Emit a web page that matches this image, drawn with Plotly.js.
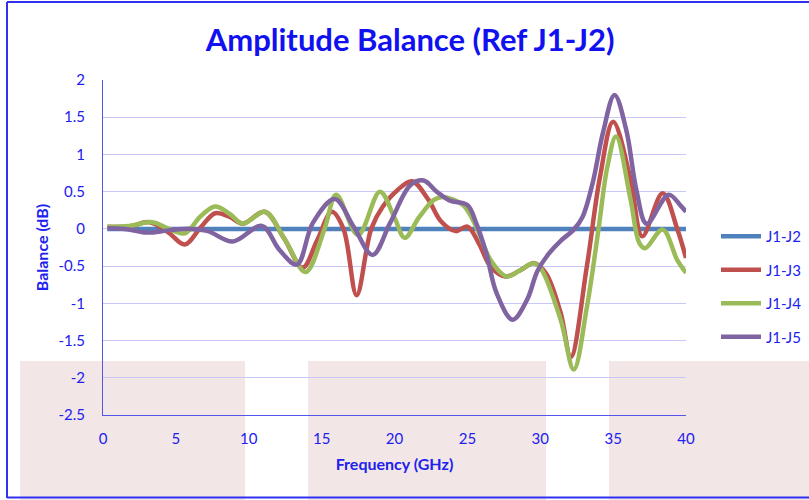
<!DOCTYPE html>
<html>
<head>
<meta charset="utf-8">
<script src="https://cdn.plot.ly/plotly-3.0.1.min.js"></script>
<style>html,body{margin:0;padding:0;background:#fff;}#chart{width:809px;height:500px;}</style>
</head>
<body>
<div id="chart"></div>
<script>
// ---- data ----
const seriesNames = ["J1-J2", "J1-J3", "J1-J4", "J1-J5"];

const x_J2 = [0.3, 40];
const y_J2 = [0, 0];

const x_J3 = [0.3, 1.8, 3.2, 4.5, 5.6, 6.7, 7.7, 8.7, 9.6, 11.1, 12.4, 13.7, 14.7, 15.7, 16.5, 17.4, 18.4, 19.2, 20.2, 21.2, 22.3, 23.2, 24.2, 25.0, 25.8, 26.6, 27.6, 28.6, 29.6, 30.4, 31.4, 32.1, 33.2, 34.1, 35.0, 36.2, 37.0, 38.4, 39.4, 40];
const y_J3 = [0.03, 0.03, 0.09, -0.05, -0.21, 0.02, 0.21, 0.16, 0.07, 0.23, -0.12, -0.52, -0.15, 0.23, 0.0, -0.89, 0.0, 0.3, 0.52, 0.64, 0.4, 0.1, -0.03, 0.03, -0.2, -0.51, -0.64, -0.56, -0.46, -0.6, -1.13, -1.72, -0.5, 0.7, 1.44, 0.66, -0.1, 0.48, 0.0, -0.39];

const x_J4 = [0.3, 1.8, 3.4, 4.4, 5.6, 6.7, 7.7, 8.7, 9.6, 11.1, 12.5, 13.9, 15.2, 16.0, 17.5, 19.0, 20.0, 20.7, 21.7, 22.7, 23.3, 24.7, 25.6, 26.6, 27.7, 28.6, 29.5, 30.0, 31.4, 32.3, 33.2, 34.0, 34.6, 35.2, 36.2, 36.8, 37.2, 38.4, 39.4, 40];
const y_J4 = [0.03, 0.04, 0.09, 0.01, -0.06, 0.17, 0.3, 0.2, 0.07, 0.23, -0.15, -0.58, 0.0, 0.46, -0.08, 0.5, 0.15, -0.12, 0.16, 0.39, 0.43, 0.32, 0.03, -0.42, -0.64, -0.56, -0.46, -0.52, -1.22, -1.89, -1.05, 0.0, 0.83, 1.24, 0.39, -0.19, -0.26, -0.01, -0.42, -0.59];

const x_J5 = [0.3, 1.5, 3.0, 4.5, 6.0, 7.2, 8.9, 10.9, 12.1, 13.3, 14.4, 15.9, 17.2, 18.5, 19.7, 21.1, 22.0, 22.9, 23.8, 25.0, 25.6, 26.3, 27.0, 28.1, 29.1, 29.8, 30.6, 31.4, 32.3, 32.9, 33.6, 34.3, 35.1, 35.9, 36.6, 37.3, 38.8, 39.6, 40];
const y_J5 = [0.01, 0.0, -0.05, -0.02, 0.0, -0.03, -0.17, 0.04, -0.28, -0.48, 0.08, 0.4, 0.03, -0.35, 0.08, 0.59, 0.65, 0.5, 0.38, 0.32, 0.08, -0.33, -0.86, -1.22, -0.95, -0.57, -0.33, -0.16, -0.01, 0.16, 0.62, 1.29, 1.8, 1.33, 0.52, 0.07, 0.46, 0.32, 0.23];

const xTicks = [0, 5, 10, 15, 20, 25, 30, 35, 40];
const yTicks = [-2.5, -2, -1.5, -1, -0.5, 0, 0.5, 1, 1.5, 2];

// ---- styling ----
const colors = ["#4F81BD", "#C0504D", "#9BBB59", "#8064A2"];
const FONT = "Lato, 'Open Sans', sans-serif";
const BLUE = "#2020F0";

const xs = [x_J2, x_J3, x_J4, x_J5];
const ys = [y_J2, y_J3, y_J4, y_J5];

const traces = seriesNames.map((n, i) => ({
  type: "scatter", mode: "lines", name: n,
  x: xs[i], y: ys[i],
  legendgroup: "g" + i,
  line: {color: colors[i], width: 4.5, shape: i === 0 ? "linear" : "spline", smoothing: 1}
}));

// pink background blocks (pixel-based, converted to paper coords)
const L = 103, R = 686, T = 80, B = 415;
const px = p => (p - L) / (R - L);
const py = p => (B - p) / (B - T);
const pinkBlocks = [[20, 245], [308, 546], [609, 812]];
const shapes = pinkBlocks.map(b => ({
  type: "rect", xref: "paper", yref: "paper", layer: "below",
  x0: px(b[0]), x1: px(b[1]), y0: py(361), y1: py(503),
  fillcolor: "#F2E6E6", line: {width: 0}
}));
// frame lines
shapes.push({type: "line", xref: "paper", yref: "paper", x0: px(7), x1: px(7), y0: py(2), y1: py(498), line: {color: "#3030F0", width: 2}, layer: "above"});
shapes.push({type: "line", xref: "paper", yref: "paper", x0: px(7), x1: px(812), y0: py(2), y1: py(2), line: {color: "#3030F0", width: 2}, layer: "above"});
shapes.push({type: "line", xref: "paper", yref: "paper", x0: px(7), x1: px(812), y0: py(497.5), y1: py(497.5), line: {color: "#3030F0", width: 2}, layer: "above"});

const layout = {
  width: 809, height: 500,
  margin: {l: L, r: 809 - R, t: T, b: 500 - B, autoexpand: false},
  paper_bgcolor: "#ffffff",
  plot_bgcolor: "rgba(0,0,0,0)",
  font: {family: FONT, color: BLUE, size: 15},
  title: {text: "<b>Amplitude Balance (Ref J1-J2)</b>", x: 0.507, xanchor: "center", y: 0.92, yanchor: "middle",
          font: {family: FONT, size: 31, color: "#1010F0"}},
  xaxis: {
    range: [0, 40], tickvals: xTicks, ticktext: xTicks.map(String),
    showgrid: false, zeroline: false,
    showline: true, linecolor: "#5555EE", linewidth: 1,
    ticks: "", ticklabelstandoff: 10,
    tickfont: {family: FONT, size: 15, color: BLUE},
    title: {text: "<b>Frequency (GHz)</b>", font: {family: FONT, size: 16, color: BLUE}, standoff: 12}
  },
  yaxis: {
    range: [-2.5, 2], tickvals: yTicks, ticktext: yTicks.map(String),
    showgrid: true, gridcolor: "#C8C8F8", gridwidth: 1, zeroline: false,
    showline: true, linecolor: "#5555EE", linewidth: 1,
    ticks: "", ticklabelstandoff: 14,
    tickfont: {family: FONT, size: 15, color: BLUE},
    title: {text: "<b>Balance (dB)</b>", font: {family: FONT, size: 16, color: BLUE}, standoff: 5}
  },
  showlegend: true,
  legend: {
    x: px(716), xanchor: "left", y: py(220), yanchor: "top",
    bgcolor: "rgba(0,0,0,0)", borderwidth: 0,
    font: {family: FONT, size: 15, color: BLUE},
    traceorder: "grouped", tracegroupgap: 11, itemwidth: 40
  },
  shapes: shapes
};

Plotly.newPlot("chart", traces, layout, {staticPlot: true, displayModeBar: false});
</script>
</body>
</html>
